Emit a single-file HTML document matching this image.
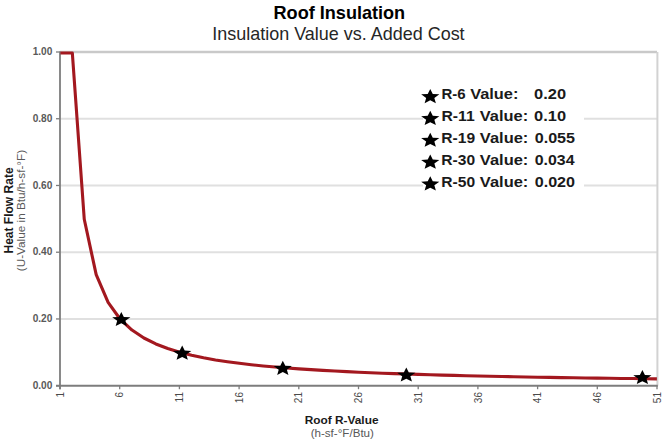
<!DOCTYPE html>
<html><head><meta charset="utf-8"><title>Roof Insulation</title><style>
html,body{margin:0;padding:0;background:#fff;width:669px;height:445px;overflow:hidden;}
svg{position:absolute;left:0;top:0;}
text{font-family:"Liberation Sans",Arial,sans-serif;}
</style></head><body>
<svg width="669" height="445" viewBox="0 0 669 445">
<line x1="60.0" y1="318.96" x2="657.0" y2="318.96" stroke="#e0e0e0" stroke-width="2"/>
<line x1="60.0" y1="252.22" x2="657.0" y2="252.22" stroke="#e0e0e0" stroke-width="2"/>
<line x1="60.0" y1="185.48" x2="657.0" y2="185.48" stroke="#e0e0e0" stroke-width="2"/>
<line x1="60.0" y1="118.74" x2="657.0" y2="118.74" stroke="#e0e0e0" stroke-width="2"/>
<line x1="60.0" y1="52.00" x2="657.0" y2="52.00" stroke="#c9c9c9" stroke-width="2.4"/>
<line x1="657.4" y1="52.0" x2="657.4" y2="385.7" stroke="#d2d2d2" stroke-width="2"/>
<line x1="60.0" y1="51.4" x2="60.0" y2="389.2" stroke="#7d7d7d" stroke-width="1.8"/>
<line x1="56.0" y1="385.7" x2="657.8" y2="385.7" stroke="#7d7d7d" stroke-width="1.9"/>
<line x1="56.0" y1="385.70" x2="60.0" y2="385.70" stroke="#7d7d7d" stroke-width="1.3"/>
<line x1="56.0" y1="318.96" x2="60.0" y2="318.96" stroke="#7d7d7d" stroke-width="1.3"/>
<line x1="56.0" y1="252.22" x2="60.0" y2="252.22" stroke="#7d7d7d" stroke-width="1.3"/>
<line x1="56.0" y1="185.48" x2="60.0" y2="185.48" stroke="#7d7d7d" stroke-width="1.3"/>
<line x1="56.0" y1="118.74" x2="60.0" y2="118.74" stroke="#7d7d7d" stroke-width="1.3"/>
<line x1="56.0" y1="52.00" x2="60.0" y2="52.00" stroke="#7d7d7d" stroke-width="1.3"/>
<line x1="60.00" y1="385.7" x2="60.00" y2="389.2" stroke="#7d7d7d" stroke-width="1.3"/>
<line x1="119.70" y1="385.7" x2="119.70" y2="389.2" stroke="#7d7d7d" stroke-width="1.3"/>
<line x1="179.40" y1="385.7" x2="179.40" y2="389.2" stroke="#7d7d7d" stroke-width="1.3"/>
<line x1="239.10" y1="385.7" x2="239.10" y2="389.2" stroke="#7d7d7d" stroke-width="1.3"/>
<line x1="298.80" y1="385.7" x2="298.80" y2="389.2" stroke="#7d7d7d" stroke-width="1.3"/>
<line x1="358.50" y1="385.7" x2="358.50" y2="389.2" stroke="#7d7d7d" stroke-width="1.3"/>
<line x1="418.20" y1="385.7" x2="418.20" y2="389.2" stroke="#7d7d7d" stroke-width="1.3"/>
<line x1="477.90" y1="385.7" x2="477.90" y2="389.2" stroke="#7d7d7d" stroke-width="1.3"/>
<line x1="537.60" y1="385.7" x2="537.60" y2="389.2" stroke="#7d7d7d" stroke-width="1.3"/>
<line x1="597.30" y1="385.7" x2="597.30" y2="389.2" stroke="#7d7d7d" stroke-width="1.3"/>
<line x1="657.00" y1="385.7" x2="657.00" y2="389.2" stroke="#7d7d7d" stroke-width="1.3"/>
<text x="52.3" y="388.95" font-size="10.1" font-weight="bold" fill="#595959" text-anchor="end">0.00</text>
<text x="52.3" y="322.21" font-size="10.1" font-weight="bold" fill="#595959" text-anchor="end">0.20</text>
<text x="52.3" y="255.47" font-size="10.1" font-weight="bold" fill="#595959" text-anchor="end">0.40</text>
<text x="52.3" y="188.73" font-size="10.1" font-weight="bold" fill="#595959" text-anchor="end">0.60</text>
<text x="52.3" y="121.99" font-size="10.1" font-weight="bold" fill="#595959" text-anchor="end">0.80</text>
<text x="52.3" y="55.25" font-size="10.1" font-weight="bold" fill="#595959" text-anchor="end">1.00</text>
<text transform="translate(63.60,392.0) rotate(-90)" font-size="10" fill="#4a4a4a" text-anchor="end">1</text>
<text transform="translate(123.30,392.0) rotate(-90)" font-size="10" fill="#4a4a4a" text-anchor="end">6</text>
<text transform="translate(183.00,392.0) rotate(-90)" font-size="10" fill="#4a4a4a" text-anchor="end">11</text>
<text transform="translate(242.70,392.0) rotate(-90)" font-size="10" fill="#4a4a4a" text-anchor="end">16</text>
<text transform="translate(302.40,392.0) rotate(-90)" font-size="10" fill="#4a4a4a" text-anchor="end">21</text>
<text transform="translate(362.10,392.0) rotate(-90)" font-size="10" fill="#4a4a4a" text-anchor="end">26</text>
<text transform="translate(421.80,392.0) rotate(-90)" font-size="10" fill="#4a4a4a" text-anchor="end">31</text>
<text transform="translate(481.50,392.0) rotate(-90)" font-size="10" fill="#4a4a4a" text-anchor="end">36</text>
<text transform="translate(541.20,392.0) rotate(-90)" font-size="10" fill="#4a4a4a" text-anchor="end">41</text>
<text transform="translate(600.90,392.0) rotate(-90)" font-size="10" fill="#4a4a4a" text-anchor="end">46</text>
<text transform="translate(660.60,392.0) rotate(-90)" font-size="10" fill="#4a4a4a" text-anchor="end">51</text>
<rect x="423" y="80" width="161" height="115" fill="#fff"/>
<polyline points="60.40,53.00 72.33,53.00 84.26,219.25 96.19,274.67 108.12,302.38 120.05,319.00 131.98,330.08 143.91,338.00 155.84,343.94 167.77,348.56 179.70,352.25 191.63,355.27 203.56,357.79 215.49,359.92 227.42,361.75 239.35,363.33 251.28,364.72 263.21,365.94 275.14,367.03 287.07,368.00 299.00,368.88 310.93,369.67 322.86,370.39 334.79,371.04 346.72,371.65 358.65,372.20 370.58,372.71 382.51,373.19 394.44,373.62 406.37,374.03 418.30,374.42 430.23,374.77 442.16,375.11 454.09,375.42 466.02,375.72 477.95,376.00 489.88,376.26 501.81,376.51 513.74,376.75 525.67,376.97 537.60,377.19 549.53,377.39 561.46,377.58 573.39,377.77 585.32,377.94 597.25,378.11 609.18,378.27 621.11,378.43 633.04,378.57 644.97,378.71 656.90,378.85" fill="none" stroke="#a3181f" stroke-width="3.1" stroke-linejoin="round"/>
<polygon points="121.30,311.90 123.83,316.89 130.40,317.32 125.39,320.84 126.92,326.10 121.30,323.28 115.68,326.10 117.20,320.84 112.20,317.32 118.77,316.89" fill="#000"/>
<polygon points="182.20,345.60 184.73,350.59 191.30,351.02 186.29,354.54 187.82,359.80 182.20,356.98 176.58,359.80 178.10,354.54 173.10,351.02 179.67,350.59" fill="#000"/>
<polygon points="282.80,360.70 285.33,365.69 291.90,366.12 286.89,369.64 288.42,374.90 282.80,372.08 277.18,374.90 278.71,369.64 273.70,366.12 280.27,365.69" fill="#000"/>
<polygon points="406.30,367.40 408.83,372.39 415.40,372.82 410.39,376.34 411.92,381.60 406.30,378.78 400.68,381.60 402.21,376.34 397.20,372.82 403.77,372.39" fill="#000"/>
<polygon points="642.40,369.90 644.93,374.89 651.50,375.32 646.50,378.84 648.02,384.10 642.40,381.28 636.78,384.10 638.30,378.84 633.30,375.32 639.87,374.89" fill="#000"/>
<polygon points="430.25,88.95 432.78,93.94 439.35,94.37 434.35,97.89 435.87,103.15 430.25,100.33 424.63,103.15 426.15,97.89 421.15,94.37 427.72,93.94" fill="#000"/>
<polygon points="430.25,110.80 432.78,115.79 439.35,116.22 434.35,119.74 435.87,125.00 430.25,122.18 424.63,125.00 426.15,119.74 421.15,116.22 427.72,115.79" fill="#000"/>
<polygon points="430.25,132.65 432.78,137.64 439.35,138.07 434.35,141.59 435.87,146.85 430.25,144.03 424.63,146.85 426.15,141.59 421.15,138.07 427.72,137.64" fill="#000"/>
<polygon points="430.25,154.50 432.78,159.49 439.35,159.92 434.35,163.44 435.87,168.70 430.25,165.88 424.63,168.70 426.15,163.44 421.15,159.92 427.72,159.49" fill="#000"/>
<polygon points="430.25,176.35 432.78,181.34 439.35,181.77 434.35,185.29 435.87,190.55 430.25,187.73 424.63,190.55 426.15,185.29 421.15,181.77 427.72,181.34" fill="#000"/>
<text transform="translate(273.52,19.00) scale(1.0229,1)" font-size="17.7" font-weight="bold" fill="#000">Roof Insulation</text>
<text transform="translate(212.22,39.50) scale(1.0160,1)" font-size="17.7" fill="#262626">Insulation Value vs. Added Cost</text>
<text transform="translate(304.74,424.30) scale(1.0146,1)" font-size="11.7" font-weight="bold" fill="#1a1a1a">Roof R-Value</text>
<text transform="translate(310.64,437.30) scale(1.0090,1)" font-size="11.5" fill="#595959">(h-sf-°F/Btu)</text>
<text transform="translate(12.80,253.55) rotate(-90) scale(1.0029,1)" font-size="12" font-weight="bold" fill="#1a1a1a">Heat Flow Rate</text>
<text transform="translate(25.20,271.25) rotate(-90) scale(1.0059,1)" font-size="11.7" fill="#595959">(U-Value in Btu/h-sf-°F)</text>
<text transform="translate(441.52,99.40) scale(0.9763,1)" font-size="15.4" font-weight="bold" fill="#1a1a1a">R-6</text>
<text transform="translate(470.13,99.40) scale(1.0651,1)" font-size="15.4" font-weight="bold" fill="#1a1a1a">Value:</text>
<text transform="translate(534.07,99.40) scale(1.0678,1)" font-size="15.4" font-weight="bold" fill="#1a1a1a">0.20</text>
<text transform="translate(441.48,121.25) scale(1.0226,1)" font-size="15.4" font-weight="bold" fill="#1a1a1a">R-11</text>
<text transform="translate(479.83,121.25) scale(1.0674,1)" font-size="15.4" font-weight="bold" fill="#1a1a1a">Value:</text>
<text transform="translate(534.07,121.25) scale(1.0678,1)" font-size="15.4" font-weight="bold" fill="#1a1a1a">0.10</text>
<text transform="translate(441.29,143.10) scale(1.0142,1)" font-size="15.4" font-weight="bold" fill="#1a1a1a">R-19</text>
<text transform="translate(479.83,143.10) scale(1.0697,1)" font-size="15.4" font-weight="bold" fill="#1a1a1a">Value:</text>
<text transform="translate(534.68,143.10) scale(1.0480,1)" font-size="15.4" font-weight="bold" fill="#1a1a1a">0.055</text>
<text transform="translate(441.29,164.95) scale(1.0142,1)" font-size="15.4" font-weight="bold" fill="#1a1a1a">R-30</text>
<text transform="translate(479.83,164.95) scale(1.0697,1)" font-size="15.4" font-weight="bold" fill="#1a1a1a">Value:</text>
<text transform="translate(534.68,164.95) scale(1.0342,1)" font-size="15.4" font-weight="bold" fill="#1a1a1a">0.034</text>
<text transform="translate(441.29,186.80) scale(1.0142,1)" font-size="15.4" font-weight="bold" fill="#1a1a1a">R-50</text>
<text transform="translate(479.83,186.80) scale(1.0697,1)" font-size="15.4" font-weight="bold" fill="#1a1a1a">Value:</text>
<text transform="translate(534.68,186.80) scale(1.0480,1)" font-size="15.4" font-weight="bold" fill="#1a1a1a">0.020</text>
</svg>
</body></html>
